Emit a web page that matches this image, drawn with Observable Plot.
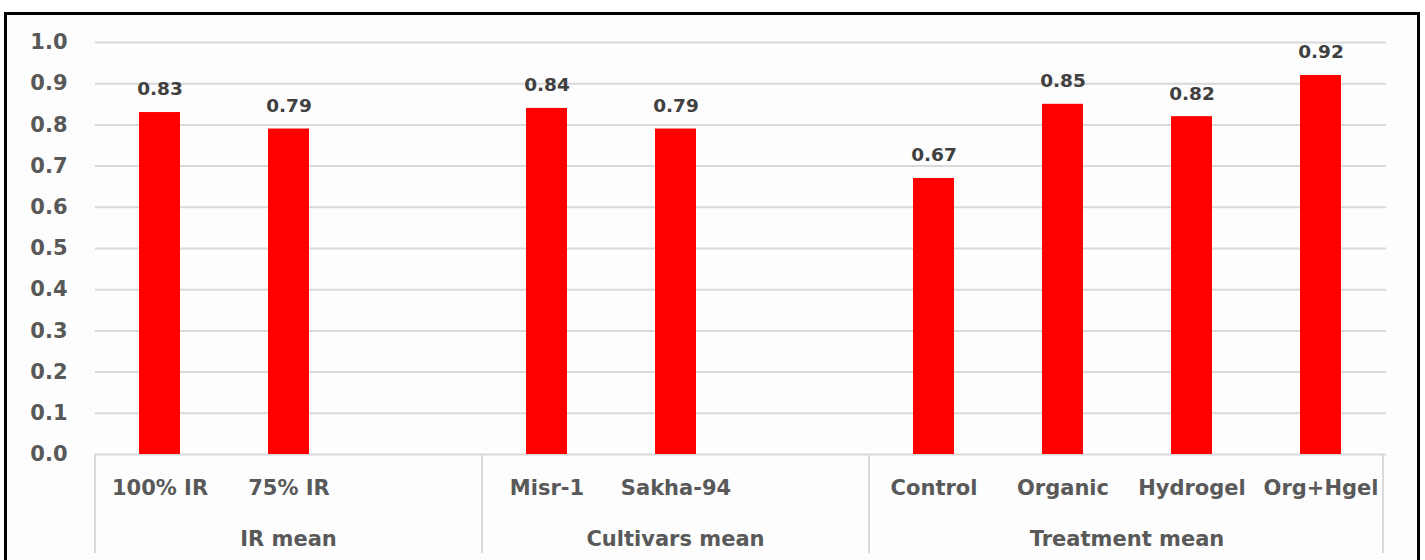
<!DOCTYPE html>
<html>
<head>
<meta charset="utf-8">
<script src="https://cdn.jsdelivr.net/npm/d3@7"></script>
<script src="https://cdn.jsdelivr.net/npm/@observablehq/plot@0.6"></script>
<style>
  body { margin: 0; background: #ffffff; }
  #wrap { position: relative; width: 1425px; height: 560px; overflow: hidden; }
  #frame { position: absolute; left: 4px; top: 12px; width: 1410px; height: 620px;
           border: 3px solid #000; background: #fdfdfd; }
  #chart { position: absolute; left: 0; top: 0; }
</style>
</head>
<body>
<div id="wrap"><div id="frame"></div><div id="chart"></div></div>
<script>
// Group headings and the categories under each
const groups = ["IR mean", "Cultivars mean", "Treatment mean"];
const irLevels = ["100% IR", "75% IR"];
const cultivars = ["Misr-1", "Sakha-94"];
const treatments = ["Control", "Organic", "Hydrogel", "Org+Hgel"];

// Mean values per category
const irValues = [0.83, 0.79];
const cultivarValues = [0.84, 0.79];
const treatmentValues = [0.67, 0.85, 0.82, 0.92];

const yTicks = [0, 0.1, 0.2, 0.3, 0.4, 0.5, 0.6, 0.7, 0.8, 0.9, 1.0];

// Each group occupies slots on the x axis; the shorter groups get a blank slot
const members = [irLevels, cultivars, treatments];
const groupValues = [irValues, cultivarValues, treatmentValues];
const slotsPerGroup = [3, 3, 4];

const slots = [];
const rows = [];
const groupSpans = [];
members.forEach((cats, g) => {
  const first = slots.length;
  cats.forEach((c, i) => { slots.push(c); rows.push({category: c, value: groupValues[g][i]}); });
  for (let k = cats.length; k < slotsPerGroup[g]; k++) slots.push("blank-" + g + "-" + k);
  groupSpans.push({group: groups[g], first, last: slots.length - 1});
});
const categories = rows.map(d => d.category);

const W = 1425, H = 560;
const mL = 95, mR = 39, mT = 42, mB = 106;
const textColor = "#595959";
const gridColor = "#d9d9d9";

const plot = Plot.plot({
  width: W, height: H,
  marginLeft: mL, marginRight: mR, marginTop: mT, marginBottom: mB,
  style: { background: "transparent", fontFamily: "DejaVu Sans", overflow: "visible" },
  x: { domain: slots, paddingInner: 0.682, paddingOuter: 0.341, axis: null },
  y: { domain: [0, 1], axis: null },
  marks: [
    Plot.gridY(yTicks, { stroke: gridColor, strokeOpacity: 1, strokeWidth: 2 }),
    Plot.axisY(yTicks, {
      tickSize: 0, tickPadding: 28, tickFormat: d3.format(".1f"), label: null,
      fontSize: 21, fontWeight: "bold", fill: textColor
    }),
    Plot.barY(rows, { x: "category", y: "value", fill: "#ff0000" }),
    Plot.text(rows, {
      x: "category", y: "value", text: d => d3.format(".2f")(d.value),
      dy: -23, fontSize: 18.5, fontWeight: "bold", fill: "#404040"
    }),
    Plot.axisX(categories, {
      tickSize: 0, tickPadding: 26, label: null,
      fontSize: 21, fontWeight: "bold", fill: textColor
    })
  ]
});

// Group separators and group headings beneath the category labels
const x = plot.scale("x");
const y = plot.scale("y");
const step = x.step;
const bw = x.bandwidth;
const slotStart = s => x.apply(slots[s]) + bw / 2 - step / 2;
const slotEnd = s => x.apply(slots[s]) + bw / 2 + step / 2;
const y0 = y.apply(0);

const svg = d3.select(plot);
const deco = svg.append("g");
const bounds = [slotStart(0), ...groupSpans.map(sp => slotEnd(sp.last))];
bounds.forEach((bx, i) => {
  const px = i === bounds.length - 1 ? bx - 2 : bx;
  deco.append("line")
    .attr("x1", px).attr("x2", px)
    .attr("y1", y0).attr("y2", y0 + 99)
    .attr("stroke", gridColor).attr("stroke-width", 2);
});
groupSpans.forEach(sp => {
  deco.append("text")
    .attr("x", (slotStart(sp.first) + slotEnd(sp.last)) / 2)
    .attr("y", y0 + 92)
    .attr("text-anchor", "middle")
    .attr("font-family", "DejaVu Sans")
    .attr("font-size", 21)
    .attr("font-weight", "bold")
    .attr("fill", textColor)
    .text(sp.group);
});

document.getElementById("chart").appendChild(plot);
</script>
</body>
</html>
